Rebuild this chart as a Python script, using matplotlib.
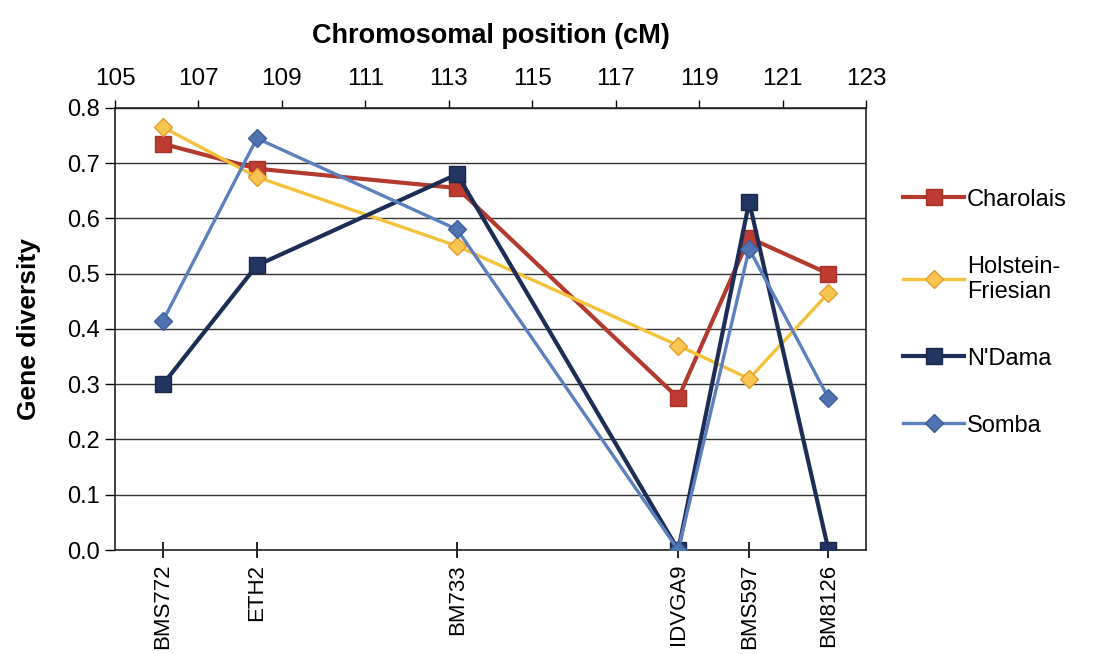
import matplotlib.pyplot as plt

plt.rcParams['font.family'] = ['Liberation Sans', 'DejaVu Sans']

# marker positions (cM) and names
markers = ["BMS772", "ETH2", "BM733", "IDVGA9", "BMS597", "BM8126"]
positions = [106.15, 108.4, 113.2, 118.5, 120.2, 122.1]

# gene diversity per breed
charolais = [0.735, 0.69, 0.655, 0.275, 0.565, 0.50]
holstein = [0.765, 0.675, 0.55, 0.37, 0.31, 0.465]
ndama = [0.30, 0.515, 0.68, 0.0, 0.63, 0.0]
somba = [0.415, 0.745, 0.58, 0.0, 0.545, 0.275]

top_ticks = [105, 107, 109, 111, 113, 115, 117, 119, 121, 123]
y_ticks = [0.0, 0.1, 0.2, 0.3, 0.4, 0.5, 0.6, 0.7, 0.8]

fig = plt.figure(figsize=(11.06, 6.54), dpi=100)
ax = fig.add_axes([0.104, 0.159, 0.679, 0.676])

ax.plot(positions, charolais, color='#B23A2E', lw=3.0, marker='s', ms=11,
        mfc='#BD3B30', mec='#A8332A', label='Charolais', zorder=3)
ax.plot(positions, holstein, color='#F3C13A', lw=2.4, marker='D', ms=9,
        mfc='#F8C550', mec='#E89A2A', label='Holstein-\nFriesian', zorder=3)
ax.plot(positions, ndama, color='#1E2D55', lw=3.0, marker='s', ms=11,
        mfc='#223462', mec='#1A2748', label="N'Dama", zorder=4)
ax.plot(positions, somba, color='#5B80BE', lw=2.4, marker='D', ms=9,
        mfc='#4F73B0', mec='#3E5F99', label='Somba', zorder=4)

ax.set_xlim(105, 123)
ax.set_ylim(0, 0.8)
ax.set_yticks(y_ticks)
ax.set_yticklabels(["%.1f" % v for v in y_ticks], fontsize=17)
ax.grid(axis='y', color='#333333', lw=1.0)
ax.set_axisbelow(True)
for s in ax.spines.values():
    s.set_color('#222222')
    s.set_linewidth(1.2)

ax.set_xticks(positions)
ax.set_xticklabels(markers, rotation=90, fontsize=16)
ax.tick_params(axis='x', direction='inout', length=12, width=1.2, pad=4)
ax.tick_params(axis='y', direction='out', length=7, width=1.0, pad=4)
ax.set_ylabel('Gene diversity', fontsize=19, fontweight='bold')
ax.yaxis.set_label_coords(-0.098, 0.5)

top = ax.secondary_xaxis('top')
top.set_xticks(top_ticks)
top.set_xticklabels([str(t) for t in top_ticks], fontsize=17.5)
top.tick_params(direction='out', length=6, width=1.0, pad=7)
top.set_xlabel('Chromosomal position (cM)', fontsize=19.5, fontweight='bold',
               labelpad=18)

leg = fig.legend(loc='upper left', bbox_to_anchor=(0.808, 0.726), frameon=False,
                 fontsize=17, handlelength=2.6, handletextpad=0.1,
                 labelspacing=1.9, borderaxespad=0)

fig.savefig('out.png', dpi=100)
